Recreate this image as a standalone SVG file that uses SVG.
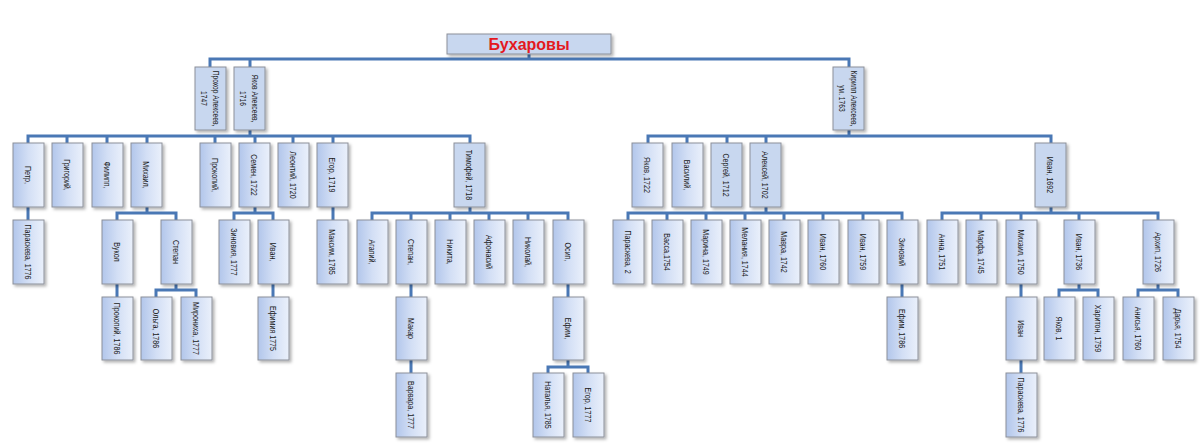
<svg xmlns="http://www.w3.org/2000/svg" width="1200" height="443" viewBox="0 0 1200 443">
<defs>
<linearGradient id="gb" x1="0" y1="0" x2="1" y2="0">
<stop offset="0" stop-color="#b2c6eb"/>
<stop offset="0.5" stop-color="#d3dff5"/>
<stop offset="1" stop-color="#eaf0fb"/>
</linearGradient>
<filter id="sh" x="-20%" y="-20%" width="150%" height="150%">
<feDropShadow dx="2" dy="2" stdDeviation="1.5" flood-color="#000" flood-opacity="0.3"/>
</filter>
</defs>
<style>
.box{fill:url(#gb);stroke:#8c9099;stroke-width:1;filter:url(#sh)}
.flat{fill:#c8d7ef;stroke:#8c9099;stroke-width:1;filter:url(#sh)}
.t{font-family:"Liberation Sans",Arial,sans-serif;font-size:9.5px;fill:#1a1a1a;text-anchor:middle;dominant-baseline:central}
.title{font-family:"Liberation Sans",Arial,sans-serif;font-size:16px;font-weight:bold;fill:#e3191f;text-anchor:middle;dominant-baseline:central}
.c{fill:none;stroke:#4a78b5;stroke-width:3;stroke-linejoin:miter}
</style>
<g id="connectors">
<path class="c" d="M529 54V59M210 67V59H849V67M250 59V67"/>
<path class="c" d="M250 130V136M28 143V136H470V143M67 136V143M107 136V143M147 136V143M215 136V143M255 136V143M293 136V143M333 136V143"/>
<path class="c" d="M849 130V136M648 143V136H1051V143M687 136V143M727 136V143M766 136V143"/>
<path class="c" d="M28 207V220M333 207V220"/>
<path class="c" d="M147 207V213M117 220V213H176V220"/>
<path class="c" d="M255 207V213M234 220V213H273V220"/>
<path class="c" d="M470 207V213M372 220V213H568V220M411 213V220M450 213V220M489 213V220M528 213V220"/>
<path class="c" d="M766 207V213M628 220V213H902V220M667 213V220M706 213V220M745 213V220M784 213V220M823 213V220M863 213V220"/>
<path class="c" d="M1051 207V213M942 220V213H1158V220M981 213V220M1021 213V220M1079 213V220"/>
<path class="c" d="M117 284V297M273 284V297M411 284V297M568 284V297M902 284V297M1021 284V297"/>
<path class="c" d="M176 284V290M156 297V290H196V297"/>
<path class="c" d="M1079 284V290M1059 297V290H1098V297"/>
<path class="c" d="M1158 284V290M1138 297V290H1178V297"/>
<path class="c" d="M411 360V373M1021 360V373"/>
<path class="c" d="M568 360V367M548 373V367H588V373"/>
</g>
<g id="n-title"><rect class="flat" x="447" y="34" width="164" height="20"/><text class="title" x="529" y="44.5">Бухаровы</text></g>
<g id="n-prokhor"><rect class="flat" x="195" y="67" width="31" height="63"/><text class="t" transform="translate(210.5,98.5) rotate(90) scale(0.7,1)"><tspan x="0" y="-6">Прохор Алексеев,</tspan><tspan x="0" y="6">1747</tspan></text></g>
<g id="n-yakov1716"><rect class="flat" x="234" y="67" width="31" height="63"/><text class="t" transform="translate(249.5,98.5) rotate(90) scale(0.7,1)"><tspan x="0" y="-6">Яков Алексеев,</tspan><tspan x="0" y="6">1716</tspan></text></g>
<g id="n-kirill"><rect class="flat" x="833" y="67" width="31" height="63"/><text class="t" transform="translate(848.5,98.5) rotate(90) scale(0.7,1)"><tspan x="0" y="-6">Кирилл Алексеев,</tspan><tspan x="0" y="6">ум. 1763</tspan></text></g>
<g id="n-petr"><rect class="box" x="13" y="143" width="31" height="64"/><text class="t" transform="translate(28.5,175) rotate(90) scale(0.75,1)">Петр,</text></g>
<g id="n-grigoriy"><rect class="box" x="52" y="143" width="31" height="64"/><text class="t" transform="translate(67.5,175) rotate(90) scale(0.75,1)">Григорий,</text></g>
<g id="n-filipp"><rect class="box" x="92" y="143" width="31" height="64"/><text class="t" transform="translate(107.5,175) rotate(90) scale(0.75,1)">Филипп,</text></g>
<g id="n-mikhail"><rect class="box" x="131" y="143" width="31" height="64"/><text class="t" transform="translate(146.5,175) rotate(90) scale(0.75,1)">Михаил,</text></g>
<g id="n-prokopiy"><rect class="box" x="200" y="143" width="31" height="64"/><text class="t" transform="translate(215.5,175) rotate(90) scale(0.75,1)">Прокопий,</text></g>
<g id="n-semen"><rect class="box" x="239" y="143" width="31" height="64"/><text class="t" transform="translate(254.5,175) rotate(90) scale(0.75,1)">Семен, 1722</text></g>
<g id="n-leontiy"><rect class="box" x="278" y="143" width="31" height="64"/><text class="t" transform="translate(293.5,175) rotate(90) scale(0.75,1)">Леонтий, 1720</text></g>
<g id="n-egor1719"><rect class="box" x="317" y="143" width="31" height="64"/><text class="t" transform="translate(332.5,175) rotate(90) scale(0.75,1)">Егор, 1719</text></g>
<g id="n-timofey"><rect class="flat" x="454" y="143" width="31" height="64"/><text class="t" transform="translate(469.5,175) rotate(90) scale(0.75,1)">Тимофей, 1718</text></g>
<g id="n-yakov1722"><rect class="box" x="632" y="143" width="31" height="64"/><text class="t" transform="translate(647.5,175) rotate(90) scale(0.75,1)">Яков, 1722</text></g>
<g id="n-vasiliy"><rect class="box" x="672" y="143" width="31" height="64"/><text class="t" transform="translate(687.5,175) rotate(90) scale(0.75,1)">Василий,</text></g>
<g id="n-sergey"><rect class="flat" x="711" y="143" width="31" height="64"/><text class="t" transform="translate(726.5,175) rotate(90) scale(0.75,1)">Сергей, 1712</text></g>
<g id="n-aleksey"><rect class="flat" x="750" y="143" width="31" height="64"/><text class="t" transform="translate(765.5,175) rotate(90) scale(0.75,1)">Алексей, 1702</text></g>
<g id="n-ivan1692"><rect class="flat" x="1035" y="143" width="31" height="64"/><text class="t" transform="translate(1050.5,175) rotate(90) scale(0.75,1)">Иван, 1692</text></g>
<g id="n-paraskeva1776a"><rect class="box" x="13" y="220" width="31" height="64"/><text class="t" transform="translate(28.5,252) rotate(90) scale(0.75,1)">Параскева, 1776</text></g>
<g id="n-vukol"><rect class="box" x="102" y="220" width="31" height="64"/><text class="t" transform="translate(117.5,252) rotate(90) scale(0.75,1)">Вукол</text></g>
<g id="n-stepan1"><rect class="box" x="161" y="220" width="31" height="64"/><text class="t" transform="translate(176.5,252) rotate(90) scale(0.75,1)">Степан</text></g>
<g id="n-zinoviya"><rect class="box" x="219" y="220" width="31" height="64"/><text class="t" transform="translate(234.5,252) rotate(90) scale(0.75,1)">Зиновия, 1777</text></g>
<g id="n-ivan-s"><rect class="box" x="258" y="220" width="31" height="64"/><text class="t" transform="translate(273.5,252) rotate(90) scale(0.75,1)">Иван,</text></g>
<g id="n-maksim"><rect class="box" x="317" y="220" width="31" height="64"/><text class="t" transform="translate(332.5,252) rotate(90) scale(0.75,1)">Максим, 1785</text></g>
<g id="n-agapiy"><rect class="box" x="357" y="220" width="31" height="64"/><text class="t" transform="translate(372.5,252) rotate(90) scale(0.75,1)">Агапий,</text></g>
<g id="n-stepan2"><rect class="box" x="396" y="220" width="31" height="64"/><text class="t" transform="translate(411.5,252) rotate(90) scale(0.75,1)">Степан,</text></g>
<g id="n-nikita"><rect class="box" x="435" y="220" width="31" height="64"/><text class="t" transform="translate(450.5,252) rotate(90) scale(0.75,1)">Никита,</text></g>
<g id="n-afonasiy"><rect class="box" x="474" y="220" width="31" height="64"/><text class="t" transform="translate(489.5,252) rotate(90) scale(0.75,1)">Афонасий</text></g>
<g id="n-nikolay"><rect class="box" x="513" y="220" width="31" height="64"/><text class="t" transform="translate(528.5,252) rotate(90) scale(0.75,1)">Николай,</text></g>
<g id="n-osip"><rect class="box" x="553" y="220" width="31" height="64"/><text class="t" transform="translate(568.5,252) rotate(90) scale(0.75,1)">Осип,</text></g>
<g id="n-paraskeva2"><rect class="box" x="613" y="220" width="31" height="64"/><text class="t" transform="translate(628.5,252) rotate(90) scale(0.75,1)">Параскева, 2</text></g>
<g id="n-vassa"><rect class="box" x="652" y="220" width="31" height="64"/><text class="t" transform="translate(667.5,252) rotate(90) scale(0.75,1)">Васса,1754</text></g>
<g id="n-marina"><rect class="box" x="691" y="220" width="31" height="64"/><text class="t" transform="translate(706.5,252) rotate(90) scale(0.75,1)">Марина, 1749</text></g>
<g id="n-melaniya"><rect class="box" x="730" y="220" width="31" height="64"/><text class="t" transform="translate(745.5,252) rotate(90) scale(0.75,1)">Мелания, 1744</text></g>
<g id="n-mavra"><rect class="box" x="769" y="220" width="31" height="64"/><text class="t" transform="translate(784.5,252) rotate(90) scale(0.75,1)">Мавра, 1742</text></g>
<g id="n-ivan1760"><rect class="box" x="808" y="220" width="31" height="64"/><text class="t" transform="translate(823.5,252) rotate(90) scale(0.75,1)">Иван, 1760</text></g>
<g id="n-ivan1759"><rect class="box" x="848" y="220" width="31" height="64"/><text class="t" transform="translate(863.5,252) rotate(90) scale(0.75,1)">Иван, 1759</text></g>
<g id="n-zinoviy"><rect class="box" x="887" y="220" width="31" height="64"/><text class="t" transform="translate(902.5,252) rotate(90) scale(0.75,1)">Зиновий</text></g>
<g id="n-anna"><rect class="box" x="927" y="220" width="31" height="64"/><text class="t" transform="translate(942.5,252) rotate(90) scale(0.75,1)">Анна, 1751</text></g>
<g id="n-marfa"><rect class="box" x="966" y="220" width="31" height="64"/><text class="t" transform="translate(981.5,252) rotate(90) scale(0.75,1)">Марфа, 1745</text></g>
<g id="n-mikhail1750"><rect class="box" x="1006" y="220" width="31" height="64"/><text class="t" transform="translate(1021.5,252) rotate(90) scale(0.75,1)">Михаил, 1750</text></g>
<g id="n-ivan1736"><rect class="box" x="1064" y="220" width="31" height="64"/><text class="t" transform="translate(1079.5,252) rotate(90) scale(0.75,1)">Иван, 1736</text></g>
<g id="n-arkhip"><rect class="box" x="1143" y="220" width="31" height="64"/><text class="t" transform="translate(1158.5,252) rotate(90) scale(0.75,1)">Архип, 1726</text></g>
<g id="n-prokopiy1786"><rect class="box" x="102" y="297" width="31" height="63"/><text class="t" transform="translate(117.5,328.5) rotate(90) scale(0.75,1)">Прокопий, 1786</text></g>
<g id="n-olga"><rect class="box" x="141" y="297" width="31" height="63"/><text class="t" transform="translate(156.5,328.5) rotate(90) scale(0.75,1)">Ольга, 1786</text></g>
<g id="n-mironikha"><rect class="box" x="181" y="297" width="31" height="63"/><text class="t" transform="translate(196.5,328.5) rotate(90) scale(0.75,1)">Мирониха, 1777</text></g>
<g id="n-efimiya"><rect class="box" x="258" y="297" width="31" height="63"/><text class="t" transform="translate(273.5,328.5) rotate(90) scale(0.75,1)">Ефимия 1775</text></g>
<g id="n-makar"><rect class="box" x="396" y="297" width="31" height="63"/><text class="t" transform="translate(411.5,328.5) rotate(90) scale(0.75,1)">Макар</text></g>
<g id="n-efim"><rect class="box" x="553" y="297" width="31" height="63"/><text class="t" transform="translate(568.5,328.5) rotate(90) scale(0.75,1)">Ефим,</text></g>
<g id="n-efim1786"><rect class="box" x="887" y="297" width="31" height="63"/><text class="t" transform="translate(902.5,328.5) rotate(90) scale(0.75,1)">Ефим, 1786</text></g>
<g id="n-ivan-m"><rect class="box" x="1006" y="297" width="31" height="63"/><text class="t" transform="translate(1021.5,328.5) rotate(90) scale(0.75,1)">Иван</text></g>
<g id="n-yakov1"><rect class="box" x="1044" y="297" width="31" height="63"/><text class="t" transform="translate(1059.5,328.5) rotate(90) scale(0.75,1)">Яков, 1</text></g>
<g id="n-khariton"><rect class="box" x="1083" y="297" width="31" height="63"/><text class="t" transform="translate(1098.5,328.5) rotate(90) scale(0.75,1)">Харитон, 1759</text></g>
<g id="n-anisya"><rect class="box" x="1123" y="297" width="31" height="63"/><text class="t" transform="translate(1138.5,328.5) rotate(90) scale(0.75,1)">Анисья, 1760</text></g>
<g id="n-darya"><rect class="box" x="1163" y="297" width="31" height="63"/><text class="t" transform="translate(1178.5,328.5) rotate(90) scale(0.75,1)">Дарья, 1754</text></g>
<g id="n-varvara"><rect class="box" x="396" y="373" width="31" height="64"/><text class="t" transform="translate(411.5,405) rotate(90) scale(0.75,1)">Варвара, 1777</text></g>
<g id="n-natalya"><rect class="box" x="533" y="373" width="31" height="64"/><text class="t" transform="translate(548.5,405) rotate(90) scale(0.75,1)">Наталья, 1785</text></g>
<g id="n-egor1777"><rect class="box" x="573" y="373" width="31" height="64"/><text class="t" transform="translate(588.5,405) rotate(90) scale(0.75,1)">Егор, 1777</text></g>
<g id="n-paraskeva1776b"><rect class="box" x="1006" y="373" width="31" height="64"/><text class="t" transform="translate(1021.5,405) rotate(90) scale(0.75,1)">Параскева, 1776</text></g>
</svg>
